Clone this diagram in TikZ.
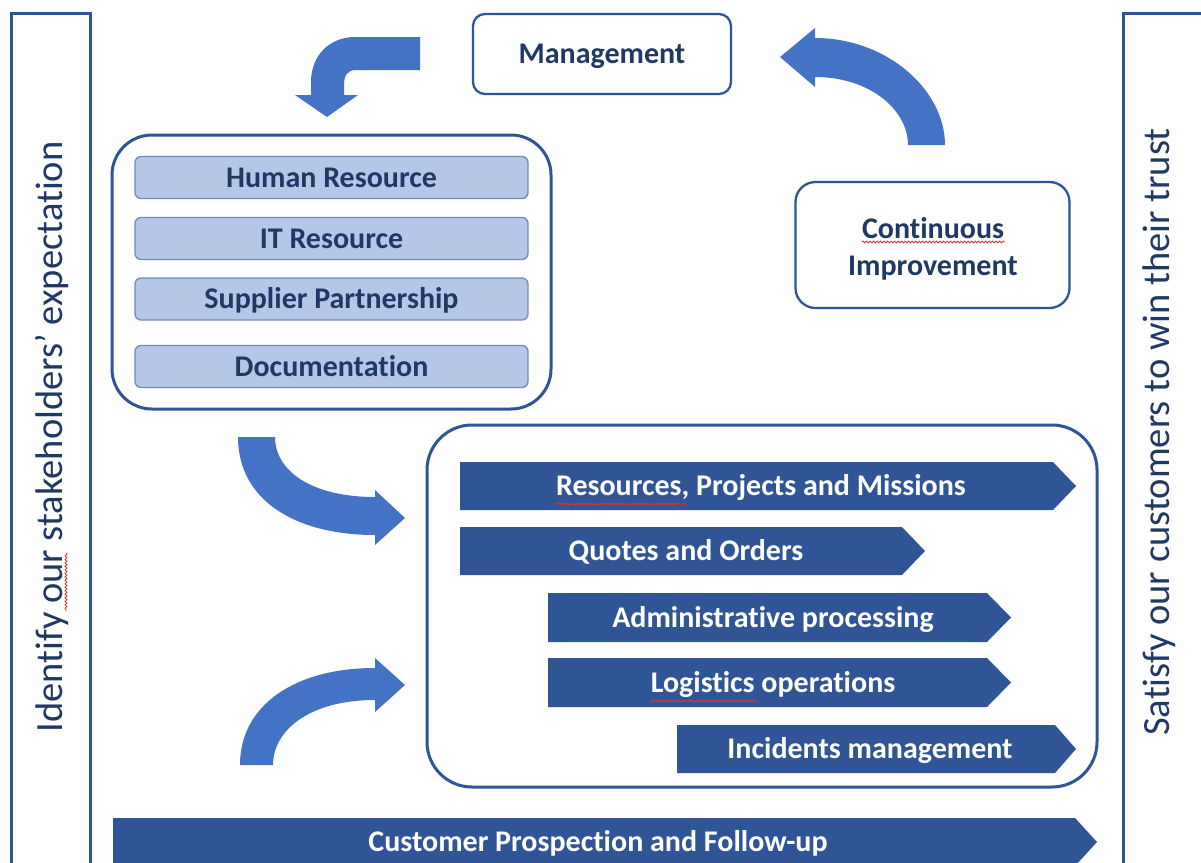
\documentclass[tikz,border=0pt]{standalone}
\usepackage{fontspec}
\setmainfont{Carlito}[Ligatures={NoCommon,NoRequired,NoContextual},Contextuals={NoAlternate}]
\usetikzlibrary{decorations.pathmorphing}
\definecolor{navy}{HTML}{1F3864}
\definecolor{dblue}{HTML}{2F5597}
\definecolor{mblue}{HTML}{4472C4}
\definecolor{lblue}{HTML}{B4C7E7}
\definecolor{lborder}{HTML}{7389B8}
\definecolor{squigred}{HTML}{E03030}
\newcommand{\mychev}[8]{% name, left, shoulder, tip, top, bottom, text x, text
  \fill[dblue] (#2,#5) -- (#3,#5) -- (#4,{(#5+#6)/2}) -- (#3,#6) -- (#2,#6) -- cycle;
  \node[chevtext] (#1) at (#7,{(#5+#6)/2}) {#8};}
\begin{document}
\begin{tikzpicture}[x=1pt,y=-1pt,
  bigbox/.style={draw=dblue, line width=3pt, rounded corners=40pt, fill=none},
  whitebox/.style={draw=dblue, line width=2.3pt, fill=white, font=\fontsize{30}{36}\selectfont\bfseries, text=navy},
  lightbox/.style={draw=lborder, line width=1.3pt, fill=lblue, rounded corners=6pt, minimum width=393pt, minimum height=42pt,
     font=\fontsize{30}{36}\selectfont\bfseries, text=navy, text height=19pt, text depth=0pt},
  chevtext/.style={font=\fontsize{30}{36}\selectfont\bfseries, text=white, text height=19pt, text depth=0pt, inner sep=0pt},
  sidebar/.style={draw=dblue, line width=3pt},
  sidetext/.style={font=\fontsize{38.5}{44}\selectfont, text=navy, rotate=90, text height=24.5pt, text depth=0pt, inner sep=0pt},
  curvarrow/.style={fill=mblue},
  squig/.style={draw=squigred, line width=0.8pt, decorate, decoration={snake, amplitude=1pt, segment length=3.5pt}}
]
\useasboundingbox (0,0) rectangle (1201,862);
\clip (0,0) rectangle (1201,862);
\fill[white] (0,0) rectangle (1201,862);

% side bars
\node[sidebar, minimum width=79pt, minimum height=900pt] (leftbar) at (50.5,463) {};
\node[sidebar, minimum width=100pt, minimum height=900pt] (rightbar) at (1173,463) {};
\node[sidetext] (lefttext) at (50,437) {Identify our stakeholders’ expectation};
\node[sidetext] (righttext) at (1157.5,432) {Satisfy our customers to win their trust};

% management
\node[whitebox, rounded corners=12pt, minimum width=258pt, minimum height=80pt, text height=19pt, text depth=0pt] (mgmt) at (602,54) {Management};

% resources container
\node[bigbox, minimum width=439pt, minimum height=274pt] (res) at (331.5,272) {};
\node[lightbox] (hr) at (331.5,177.5) {Human Resource};
\node[lightbox] (it) at (331.5,238.5) {IT Resource};
\node[lightbox] (sp) at (331.5,299) {Supplier Partnership};
\node[lightbox] (doc) at (331.5,366.5) {Documentation};

% continuous improvement
\node[whitebox, rounded corners=20pt, minimum width=274pt, minimum height=126pt, align=center] (ci) at (932.5,245) {};
\node[font=\fontsize{30}{37}\selectfont\bfseries, text=navy, align=center, inner sep=0pt] (citext) at (933,249) {Continuous\\Improvement};

% operations container
\node[bigbox, rounded corners=45pt, minimum width=670pt, minimum height=362pt] (ops) at (762,606) {};

\mychev{rpm}{460}{1053}{1076}{462}{510}{761}{Resources, Projects and Missions}
\mychev{qo}{460}{902}{925}{527}{575}{686}{Quotes and Orders}
\mychev{adm}{548}{987}{1011}{593}{642}{773}{Administrative processing}
\mychev{log}{548}{987}{1011}{658}{707}{773}{Logistics operations}
\mychev{inc}{677}{1055}{1076}{725}{773}{870}{Incidents management}
\mychev{cust}{113}{1075}{1097}{818}{866}{598}{Customer Prospection and Follow-up}

% curved arrows
\fill[curvarrow] (420,37) -- (355,37) .. controls (330,37) and (311,55) .. (311,82) -- (311,95) -- (295,95) -- (327,117) -- (358,95) -- (344,95) -- (344,85) .. controls (344,76) and (347,70) .. (356,70) -- (420,70) -- cycle;
\fill[curvarrow] (945,145) .. controls (945,90) and (887,38) .. (815,38) -- (815,28) -- (780,57) -- (815,87) -- (815,77) .. controls (870,77) and (908,110) .. (908,145) -- cycle;
\fill[curvarrow] (238,437) .. controls (238,500) and (295,535) .. (375,535) -- (375,545) -- (405,518) -- (375,490) -- (375,497) .. controls (310,497) and (275,470) .. (275,437) -- cycle;
\fill[curvarrow] (240,765) .. controls (240,705) and (295,668) .. (375,668) -- (375,658) -- (405,685) -- (375,712) -- (375,700) .. controls (310,700) and (273,730) .. (273,765) -- cycle;

% spelling squiggles
\draw[squig] (862,242) -- (1005,242);
\draw[squig] (555,504) -- (687,504);
\draw[squig] (650,701) -- (757,701);
\draw[squig] (66,553) -- (66,611);
\end{tikzpicture}
\end{document}
